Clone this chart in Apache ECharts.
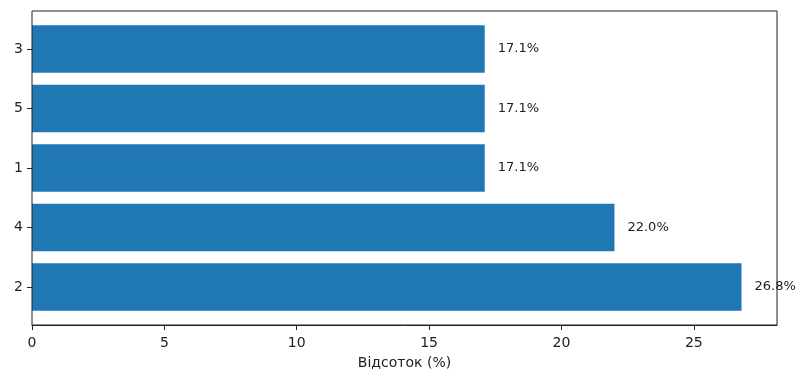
<!DOCTYPE html>
<html><head><meta charset="utf-8">
<script src="https://cdn.jsdelivr.net/npm/echarts@6/dist/echarts.min.js"></script>
<style>html,body{margin:0;padding:0;background:#fff}#c{width:796px;height:372px}</style>
</head><body><div id="c"></div>
<script>
const categories = ['2', '4', '1', '5', '3'];
const values = [26.8, 22.0, 17.1, 17.1, 17.1];
const xTicks = [0, 5, 10, 15, 20, 25];
const xMax = 28.14;
const font = 'DejaVu Sans';
const chart = echarts.init(document.getElementById('c'), null, {renderer: 'canvas'});
chart.setOption({
  animation: false,
  textStyle: {fontFamily: font},
  grid: [
    {left: 32, right: 19, top: 11, bottom: 47, show: true, borderColor: '#222', borderWidth: 1,
     backgroundColor: 'transparent', z: 10, outerBoundsMode: 'none', containLabel: false},
    {left: 32, right: 19, top: 19.25, bottom: 55.25, outerBoundsMode: 'none', containLabel: false}
  ],
  xAxis: [
    {gridIndex: 0, type: 'value', min: 0, max: xMax, interval: 5,
     axisLine: {show: true, lineStyle: {color: '#222', width: 1}},
     axisTick: {show: true, length: 5, lineStyle: {color: '#222'}, customValues: xTicks},
     axisLabel: {color: '#222', fontSize: 14, fontFamily: font, margin: 10,
       customValues: xTicks, verticalAlign: 'top', lineHeight: 16},
     splitLine: {show: false},
     name: 'Відсоток (%)', nameLocation: 'middle', nameGap: 31,
     nameTextStyle: {color: '#222', fontSize: 14, fontFamily: font}},
    {gridIndex: 1, type: 'value', min: 0, max: xMax, show: false}
  ],
  yAxis: [
    {gridIndex: 0, type: 'value', min: 0, max: 1, show: false},
    {gridIndex: 1, type: 'category', data: categories,
     axisLine: {show: false},
     axisTick: {show: true, alignWithLabel: true, length: 5, lineStyle: {color: '#222'}},
     axisLabel: {color: '#222', fontSize: 14, fontFamily: font, margin: 9},
     splitLine: {show: false}}
  ],
  series: [{
    type: 'bar', xAxisIndex: 1, yAxisIndex: 1, data: values,
    barCategoryGap: '20%',
    itemStyle: {color: '#1f77b4'},
    label: {show: true, position: 'right', distance: 13, color: '#222', fontSize: 13, fontFamily: font,
      formatter: p => p.value.toFixed(1) + '%'}
  }]
});
</script></body></html>
